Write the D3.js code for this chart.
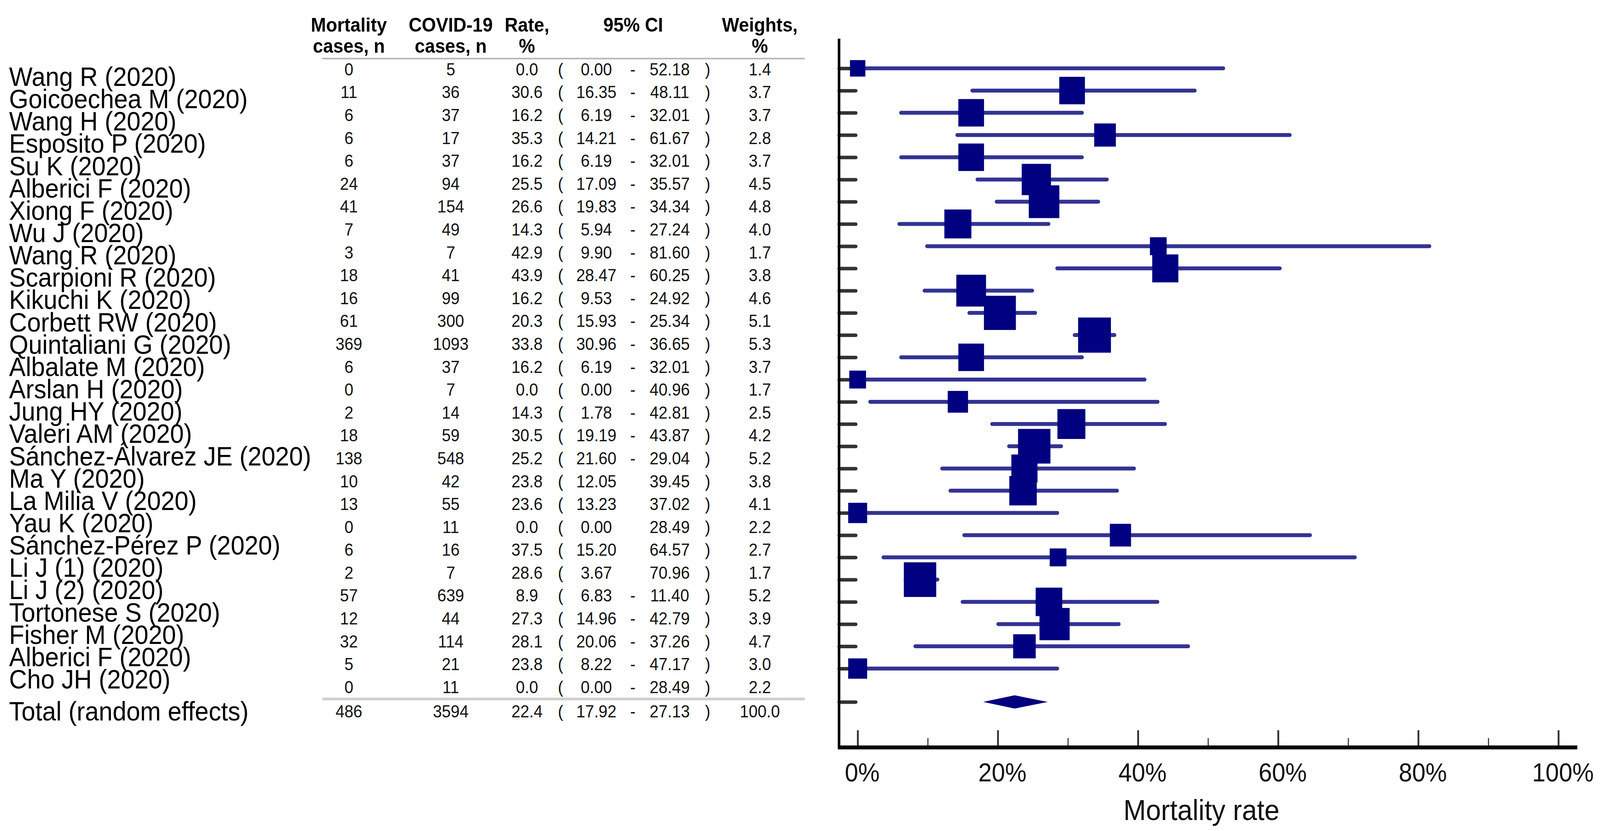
<!DOCTYPE html>
<html>
<head>
<meta charset="utf-8">
<script src="https://cdn.jsdelivr.net/npm/d3@7"></script>
<style>
html, body { margin: 0; padding: 0; background: #fff; overflow: hidden; }
svg { display: block; width: 100vw; height: 100vh; }
</style>
</head>
<body>
<script>
var w = 4384;
var h = 2128;

// study rows, top to bottom
var studies = ["Wang R (2020)", "Goicoechea M (2020)", "Wang H (2020)", "Esposito P (2020)", "Su K (2020)",
  "Alberici F (2020)", "Xiong F (2020)", "Wu J (2020)", "Wang R (2020)", "Scarpioni R (2020)",
  "Kikuchi K (2020)", "Corbett RW (2020)", "Quintaliani G (2020)", "Albalate M (2020)", "Arslan H (2020)",
  "Jung HY (2020)", "Valeri AM (2020)", "Sánchez-Álvarez JE (2020)", "Ma Y (2020)", "La Milia V (2020)",
  "Yau K (2020)", "Sánchez-Pérez P (2020)", "Li J (1) (2020)", "Li J (2) (2020)", "Tortonese S (2020)",
  "Fisher M (2020)", "Alberici F (2020)", "Cho JH (2020)"];
var deaths  = [0, 11, 6, 6, 6, 24, 41, 7, 3, 18, 16, 61, 369, 6, 0, 2, 18, 138, 10, 13, 0, 6, 2, 57, 12, 32, 5, 0];
var cases   = [5, 36, 37, 17, 37, 94, 154, 49, 7, 41, 99, 300, 1093, 37, 7, 14, 59, 548, 42, 55, 11, 16, 7, 639, 44, 114, 21, 11];
var rates   = [0.0, 30.6, 16.2, 35.3, 16.2, 25.5, 26.6, 14.3, 42.9, 43.9, 16.2, 20.3, 33.8, 16.2, 0.0, 14.3, 30.5, 25.2, 23.8, 23.6, 0.0, 37.5, 28.6, 8.9, 27.3, 28.1, 23.8, 0.0];
var ciLow   = [0.00, 16.35, 6.19, 14.21, 6.19, 17.09, 19.83, 5.94, 9.90, 28.47, 9.53, 15.93, 30.96, 6.19, 0.00, 1.78, 19.19, 21.60, 12.05, 13.23, 0.00, 15.20, 3.67, 6.83, 14.96, 20.06, 8.22, 0.00];
var ciHigh  = [52.18, 48.11, 32.01, 61.67, 32.01, 35.57, 34.34, 27.24, 81.60, 60.25, 24.92, 25.34, 36.65, 32.01, 40.96, 42.81, 43.87, 29.04, 39.45, 37.02, 28.49, 64.57, 70.96, 11.40, 42.79, 37.26, 47.17, 28.49];
var weights = [1.4, 3.7, 3.7, 2.8, 3.7, 4.5, 4.8, 4.0, 1.7, 3.8, 4.6, 5.1, 5.3, 3.7, 1.7, 2.5, 4.2, 5.2, 3.8, 4.1, 2.2, 2.7, 1.7, 5.2, 3.9, 4.7, 3.0, 2.2];
// rows printed without the "-" between the CI limits
var noDashRows = [18, 19, 20, 21, 22];

var totalLabel = "Total (random effects)";
var totalRow = [486, 3594, 22.4, 17.92, 27.13, 100.0];

var headTop = ["Mortality", "COVID-19", "Rate,", "95% CI", "Weights,"];
var headBottom = ["cases, n", "cases, n", "%", "", "%"];

var majorTicks = [0, 20, 40, 60, 80, 100];
var minorTicks = [10, 30, 50, 70, 90];

var font = "'Liberation Sans', Arial, sans-serif";

// the drawing is laid out on a 4384 x 2128 grid and stretched to the window
var svg = d3.select("body")
    .append("svg")
    .attr("viewBox", "0 0 " + w + " " + h)
    .attr("preserveAspectRatio", "none");

// scales
var x = d3.scaleLinear().domain([0, 100]).range([2350, 4270]);
var yPlot = d3.scaleLinear().domain([0, 27]).range([175, 1712]);
var yNum = d3.scaleLinear().domain([0, 27]).range([177, 1759]);
var yLab = d3.scaleLinear().domain([0, 27]).range([220, 1763]);
var size = d3.scaleLinear().domain([0, 5.3]).range([25, 90]);
var totalPlotIdx = 28.5;
var totalNumY = 1821;
var totalLabY = 1845;

var idx = d3.range(studies.length);

// ---- left labels
svg.append("g")
    .selectAll("text")
    .data(idx)
    .enter().append("text")
    .attr("x", 25)
    .attr("y", function(i) { return yLab(i); })
    .attr("font-family", font)
    .attr("font-size", 68)
    .attr("fill", "#000")
    .text(function(i) { return studies[i]; });

svg.append("text")
    .attr("x", 25)
    .attr("y", totalLabY)
    .attr("font-family", font)
    .attr("font-size", 68)
    .attr("fill", "#000")
    .text(totalLabel);

// ---- table header
var headX = [956, 1235, 1444, 1735, 2082];
var head = svg.append("g")
    .attr("font-family", font)
    .attr("font-weight", "bold")
    .attr("font-size", 50)
    .attr("text-anchor", "middle");
head.selectAll(".ht")
    .data(headTop)
    .enter().append("text")
    .attr("x", function(d, i) { return headX[i]; })
    .attr("y", 81)
    .text(function(d) { return d; });
head.selectAll(".hb")
    .data(headBottom)
    .enter().append("text")
    .attr("x", function(d, i) { return headX[i]; })
    .attr("y", 135)
    .text(function(d) { return d; });

svg.append("line")
    .attr("x1", 883).attr("x2", 2205)
    .attr("y1", 150).attr("y2", 150)
    .attr("stroke", "#b8b8b8").attr("stroke-width", 4);

svg.append("line")
    .attr("x1", 883).attr("x2", 2205)
    .attr("y1", 1790).attr("y2", 1790)
    .attr("stroke", "#cfcfcf").attr("stroke-width", 7);

// ---- table body
var cellX = [956, 1235, 1444, 1536, 1634, 1734, 1835, 1939, 2082];

function cells(d, c, r, lo, hi, wt, dash) {
    return [String(d), String(c), r.toFixed(1), "(", lo.toFixed(2), dash ? "-" : "", hi.toFixed(2), ")", wt.toFixed(1)];
}

var tableRows = idx.map(function(i) {
    return { y: yNum(i), cells: cells(deaths[i], cases[i], rates[i], ciLow[i], ciHigh[i], weights[i], noDashRows.indexOf(i) < 0) };
});
tableRows.push({ y: totalNumY, cells: cells.apply(null, totalRow.concat([true])) });

var body = svg.append("g")
    .attr("font-family", font)
    .attr("font-size", 44)
    .attr("fill", "#111")
    .attr("text-anchor", "middle");

body.selectAll("g")
    .data(tableRows)
    .enter().append("g")
    .attr("transform", function(d) { return "translate(0," + d.y + ")"; })
    .selectAll("text")
    .data(function(d) { return d.cells; })
    .enter().append("text")
    .attr("x", function(d, j) { return cellX[j]; })
    .attr("dy", "0.36em")
    .text(function(d) { return d; });

// ---- forest plot
var plot = svg.append("g");

// row ticks on the left axis
var yAxis = d3.axisRight(yPlot)
    .tickValues(idx.concat([totalPlotIdx]))
    .tickSize(46)
    .tickFormat("");
var ya = plot.append("g")
    .attr("transform", "translate(2299,0)")
    .call(yAxis);
ya.select(".domain").remove();
ya.selectAll(".tick line")
    .attr("stroke", "#333")
    .attr("stroke-width", 9)
    .attr("stroke-linecap", "round");

// confidence intervals
plot.selectAll(".ci")
    .data(idx)
    .enter().append("line")
    .attr("class", "ci")
    .attr("x1", function(i) { return x(ciLow[i]); })
    .attr("x2", function(i) { return x(ciHigh[i]); })
    .attr("y1", function(i) { return yPlot(i); })
    .attr("y2", function(i) { return yPlot(i); })
    .attr("stroke", "#333393")
    .attr("stroke-width", 10)
    .attr("stroke-linecap", "round");

// weighted squares
plot.selectAll(".sq")
    .data(idx)
    .enter().append("rect")
    .attr("class", "sq")
    .attr("x", function(i) { return x(rates[i]) - size(weights[i]) / 2; })
    .attr("y", function(i) { return yPlot(i) - size(weights[i]) / 2; })
    .attr("width", function(i) { return size(weights[i]); })
    .attr("height", function(i) { return size(weights[i]); })
    .attr("fill", "#000080");

// pooled estimate
var ty = yPlot(totalPlotIdx);
plot.append("polygon")
    .attr("points", [
        [x(totalRow[3]), ty], [x(totalRow[2]), ty - 17],
        [x(totalRow[4]), ty], [x(totalRow[2]), ty + 17]
    ].join(" "))
    .attr("fill", "#000080");

// axes frame
plot.append("line")
    .attr("x1", 2299).attr("x2", 2299)
    .attr("y1", 99).attr("y2", 1919)
    .attr("stroke", "#000").attr("stroke-width", 7);

var xa = plot.append("g")
    .attr("transform", "translate(0,1914)")
    .call(d3.axisBottom(x)
        .tickValues(majorTicks)
        .tickSize(-44)
        .tickPadding(40)
        .tickFormat(function(d) { return d + "%"; }));
xa.select(".domain").remove();
xa.selectAll(".tick line").attr("stroke", "#333").attr("stroke-width", 5);
xa.selectAll(".tick text")
    .attr("x", 12)
    .attr("font-family", font)
    .attr("font-size", 66)
    .attr("fill", "#111");

var xm = plot.append("g")
    .attr("transform", "translate(0,1914)")
    .call(d3.axisBottom(x)
        .tickValues(minorTicks)
        .tickSize(-24)
        .tickFormat(""));
xm.select(".domain").remove();
xm.selectAll(".tick line").attr("stroke", "#333").attr("stroke-width", 3);

plot.append("line")
    .attr("x1", 2296).attr("x2", x(102.7))
    .attr("y1", 1914).attr("y2", 1914)
    .attr("stroke", "#000").attr("stroke-width", 10);

plot.append("text")
    .attr("x", 3292)
    .attr("y", 2100)
    .attr("text-anchor", "middle")
    .attr("font-family", font)
    .attr("font-size", 74)
    .attr("fill", "#111")
    .text("Mortality rate");
</script>
</body>
</html>
